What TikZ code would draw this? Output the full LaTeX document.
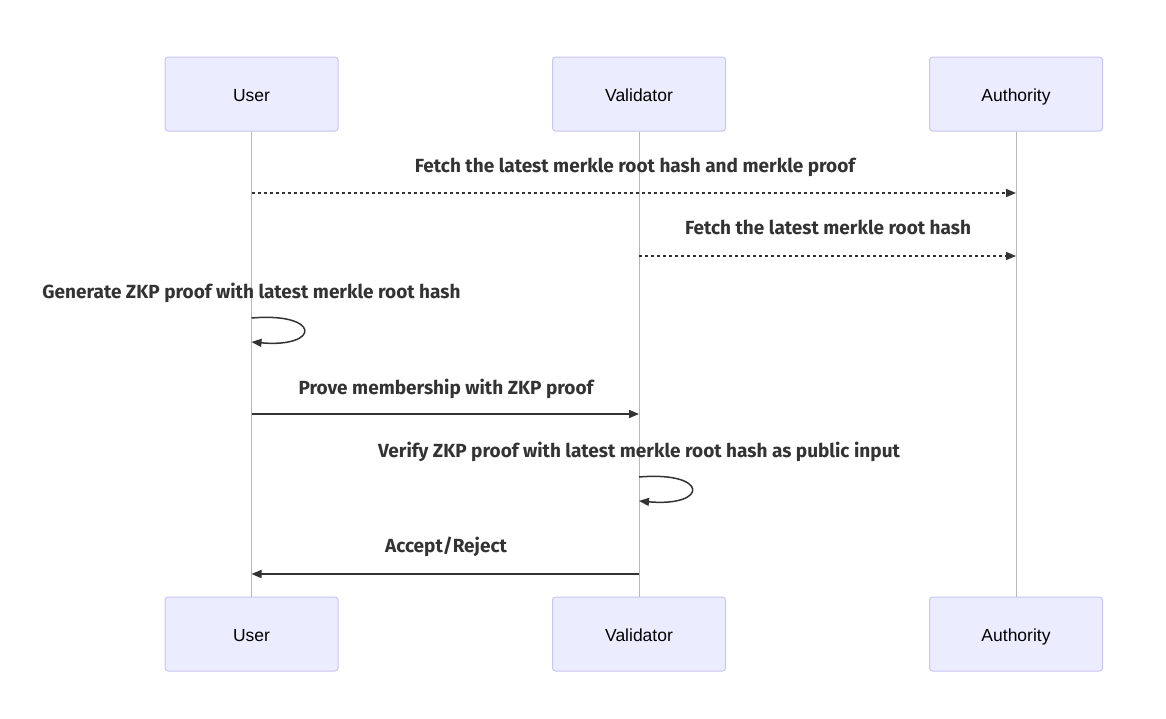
\documentclass[tikz,border=0pt]{standalone}
\usepackage{fontspec}
\setmainfont{Liberation Sans}
\newfontfamily\msgfont{Fira Sans}
\usetikzlibrary{arrows.meta}
\definecolor{actfill}{HTML}{ECECFF}
\definecolor{actdraw}{HTML}{CCC4F2}
\definecolor{linec}{HTML}{333333}
\definecolor{lifec}{HTML}{B8B8B8}
\tikzset{
  actor/.style={draw=actdraw, fill=actfill, line width=1pt, rounded corners=3pt,
    minimum width=173pt, minimum height=74pt, inner sep=0pt},
  atext/.style={font=\fontsize{17.5}{20}\selectfont, text=black, inner sep=0pt, anchor=base},
  life/.style={draw=lifec, line width=0.9pt},
  msg/.style={draw=linec, line width=1.5pt, -{Triangle[length=10pt,width=8pt]}},
  reply/.style={msg, dash pattern=on 3pt off 3pt},
  lbl/.style={font=\msgfont\bfseries\fontsize{19}{22}\selectfont, text=linec, inner sep=0pt, anchor=base}
}
\begin{document}
\begin{tikzpicture}[x=1pt,y=-1pt]
\useasboundingbox (0,0) rectangle (1166,718);
% actors
\node[actor] (ut) at (251.5,94) {};
\node[actor] (vt) at (639,94) {};
\node[actor] (at) at (1016,94) {};
\node[actor] (ub) at (251.5,634) {};
\node[actor] (vb) at (639,634) {};
\node[actor] (ab) at (1016,634) {};
\node[atext] (utt) at (251.5,101) {User};
\node[atext] (vtt) at (639,101) {Validator};
\node[atext] (att) at (1016,101) {Authority};
\node[atext] (ubt) at (251.5,641) {User};
\node[atext] (vbt) at (639,641) {Validator};
\node[atext] (abt) at (1016,641) {Authority};
% lifelines
\draw[life] (ut.south) -- (ub.north);
\draw[life] (vt.south) -- (vb.north);
\draw[life] (at.south) -- (ab.north);
% message anchors
\coordinate (u1) at (251.5,193); \coordinate (a1) at (1016,193);
\coordinate (v2) at (639,256); \coordinate (a2) at (1016,256);
\coordinate (u3a) at (251.5,318); \coordinate (u3b) at (251.5,342);
\coordinate (u4) at (251.5,414); \coordinate (v4) at (639,414);
\coordinate (v5a) at (639,477); \coordinate (v5b) at (639,501);
\coordinate (v6) at (639,574); \coordinate (u6) at (251.5,574);
% messages
\node[lbl] (l1) at (635,172) {Fetch the latest merkle root hash and merkle proof};
\draw[reply] (u1) -- (a1);
\node[lbl] (l2) at (828,234) {Fetch the latest merkle root hash};
\draw[reply] (v2) -- (a2);
\node[lbl] (l3) at (251.5,298) {Generate ZKP proof with latest merkle root hash};
\draw[msg] (u3a) .. controls (321,312) and (321,348) .. (u3b);
\node[lbl] (l4) at (446,394) {Prove membership with ZKP proof};
\draw[msg] (u4) -- (v4);
\node[lbl] (l5) at (639,457) {Verify ZKP proof with latest merkle root hash as public input};
\draw[msg] (v5a) .. controls (709,471) and (709,507) .. (v5b);
\node[lbl] (l6) at (446,552) {Accept/Reject};
\draw[msg] (v6) -- (u6);
\end{tikzpicture}
\end{document}
